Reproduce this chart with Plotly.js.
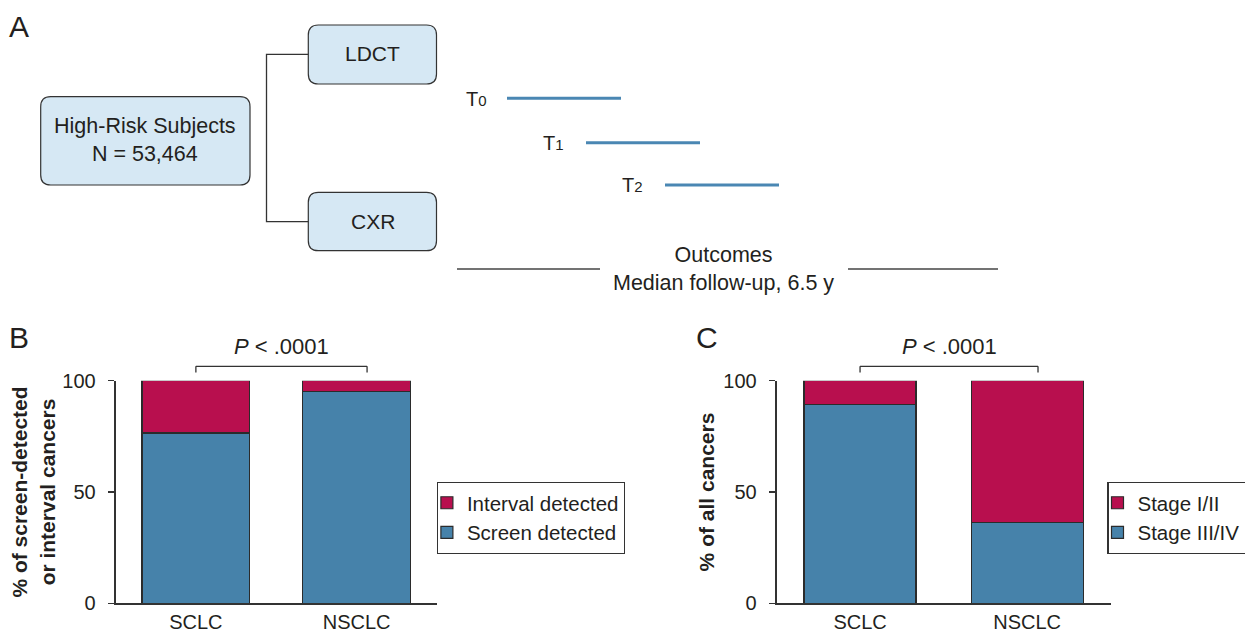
<!DOCTYPE html>
<html><head><meta charset="utf-8">
<script src="https://cdn.plot.ly/plotly-3.0.1.min.js"></script>
<style>html,body{margin:0;padding:0;background:#fff;overflow:hidden}#chart{width:1245px;height:633px}</style>
</head><body><div id="chart"></div>
<script>
// ---- data ----
const categories = ['SCLC', 'NSCLC'];
const screenDetected = [76.5, 95.2];
const intervalDetected = [23.5, 4.8];
const stageIIIIV = [89.2, 36.4];
const stageIandII = [10.8, 63.6];
const yTickVals = [0, 50, 100];
const yTickText = ['0', '50', '100'];
const seriesNamesB = ['Screen detected', 'Interval detected'];
const seriesNamesC = ['Stage III/IV', 'Stage I/II'];
const titleB = '<b>% of screen-detected<br>or interval cancers</b>';
const titleC = '<b>% of all cancers</b>';
const pValueLabel = '<i>P</i> < .0001';
const cohortLabel = 'High-Risk Subjects<br>N = 53,464';
const armLabels = ['LDCT', 'CXR'];
const roundNames = ['T', 'T', 'T'];
const roundIndex = ['0', '1', '2'];
const outcomeLabel = 'Outcomes<br>Median follow-up, 6.5 y';
const panelLabels = ['A', 'B', 'C'];

// ---- style ----
const W = 1245, H = 633;
const FONT = 'Liberation Sans, Arial, Helvetica, sans-serif';
const INK = '#231f20';
const RED = '#b80f4e';
const BLUE = '#4682aa';
const BOXFILL = '#d6e8f4';
const LINEBLUE = '#4a87b3';
const px = x => x / W;
const py = y => 1 - y / H;

function rr(x0, y0, x1, y1, r) {
  const X = v => (v / W).toFixed(5), Y = v => (1 - v / H).toFixed(5);
  return `M${X(x0 + r)},${Y(y0)} L${X(x1 - r)},${Y(y0)} Q${X(x1)},${Y(y0)} ${X(x1)},${Y(y0 + r)} ` +
    `L${X(x1)},${Y(y1 - r)} Q${X(x1)},${Y(y1)} ${X(x1 - r)},${Y(y1)} L${X(x0 + r)},${Y(y1)} ` +
    `Q${X(x0)},${Y(y1)} ${X(x0)},${Y(y1 - r)} L${X(x0)},${Y(y0 + r)} Q${X(x0)},${Y(y0)} ${X(x0 + r)},${Y(y0)} Z`;
}
function poly(pts) {
  return pts.map((p, i) => (i ? 'L' : 'M') + (p[0] / W).toFixed(5) + ',' + (1 - p[1] / H).toFixed(5)).join(' ');
}

const barLine = { color: '#2b2b2b', width: 1.2 };
const traces = [
  { type: 'bar', x: categories, y: screenDetected, name: seriesNamesB[0], marker: { color: BLUE, line: barLine }, xaxis: 'x', yaxis: 'y', legend: 'legend' },
  { type: 'bar', x: categories, y: intervalDetected, name: seriesNamesB[1], marker: { color: RED, line: barLine }, xaxis: 'x', yaxis: 'y', legend: 'legend' },
  { type: 'bar', x: categories, y: stageIIIIV, name: seriesNamesC[0], marker: { color: BLUE, line: barLine }, xaxis: 'x2', yaxis: 'y2', legend: 'legend2' },
  { type: 'bar', x: categories, y: stageIandII, name: seriesNamesC[1], marker: { color: RED, line: barLine }, xaxis: 'x2', yaxis: 'y2', legend: 'legend2' }
];

const xCommon = {
  type: 'category', range: [-0.5, 1.5], showline: true, linecolor: '#333', linewidth: 1.3,
  ticks: '', showgrid: false, zeroline: false, tickfont: { size: 20, color: INK, family: FONT }, fixedrange: true
};
const yCommon = {
  range: [0, 100], tickvals: yTickVals, ticktext: yTickText, ticks: 'outside', ticklen: 6.5, tickwidth: 1.3,
  tickcolor: '#333', showline: true, linecolor: '#333', linewidth: 1.3, showgrid: false, zeroline: false,
  ticklabelstandoff: 8,
  tickfont: { size: 20, color: INK, family: FONT }, fixedrange: true
};
const legendCommon = {
  xanchor: 'left', yanchor: 'top', bordercolor: '#333', borderwidth: 1.2, bgcolor: '#fff',
  font: { size: 20.5, color: INK, family: FONT }, traceorder: 'reversed', indentation: -11
};

const shapes = [];
const annotations = [];
const boxLine = { color: '#333', width: 1.2 };
// panel A boxes
shapes.push({ type: 'path', xref: 'paper', yref: 'paper', path: rr(40.7, 96.7, 250, 185, 10), fillcolor: BOXFILL, line: boxLine });
shapes.push({ type: 'path', xref: 'paper', yref: 'paper', path: rr(308.3, 25, 436.5, 84, 10), fillcolor: BOXFILL, line: boxLine });
shapes.push({ type: 'path', xref: 'paper', yref: 'paper', path: rr(308.3, 192.3, 436.5, 250.7, 10), fillcolor: BOXFILL, line: boxLine });
shapes.push({ type: 'path', xref: 'paper', yref: 'paper', path: poly([[308.3, 54.3], [266.5, 54.3], [266.5, 221.7], [308.3, 221.7]]), line: { color: '#333', width: 1.3 } });
// screening rounds
const roundLines = [[507, 621, 98.3], [586, 700, 142.7], [665, 779, 185]];
roundLines.forEach(l => shapes.push({ type: 'line', xref: 'paper', yref: 'paper', x0: px(l[0]), x1: px(l[1]), y0: py(l[2]), y1: py(l[2]), line: { color: LINEBLUE, width: 3 } }));
const roundText = [[476.5, 98.5], [553, 142.5], [632, 185]];
roundNames.forEach((t, i) => annotations.push({ xref: 'paper', yref: 'paper', x: px(roundText[i][0]), y: py(roundText[i][1]),
  text: t + '<span style="font-size:15px">' + roundIndex[i] + '</span>', showarrow: false, xanchor: 'center', yanchor: 'middle',
  font: { size: 20, color: INK, family: FONT } }));
// outcomes
shapes.push({ type: 'line', xref: 'paper', yref: 'paper', x0: px(457), x1: px(600), y0: py(269), y1: py(269), line: { color: '#444', width: 1.5 } });
shapes.push({ type: 'line', xref: 'paper', yref: 'paper', x0: px(848), x1: px(998), y0: py(269), y1: py(269), line: { color: '#444', width: 1.5 } });
annotations.push({ xref: 'paper', yref: 'paper', x: px(723), y: py(268.5), text: outcomeLabel, showarrow: false, xanchor: 'center', yanchor: 'middle', align: 'center', font: { size: 21.5, color: INK, family: FONT } });
annotations.push({ xref: 'paper', yref: 'paper', x: px(145), y: py(140.5), text: cohortLabel, showarrow: false, xanchor: 'center', yanchor: 'middle', align: 'center', font: { size: 21.5, color: INK, family: FONT } });
annotations.push({ xref: 'paper', yref: 'paper', x: px(372.5), y: py(54), text: armLabels[0], showarrow: false, xanchor: 'center', yanchor: 'middle', font: { size: 21, color: INK, family: FONT } });
annotations.push({ xref: 'paper', yref: 'paper', x: px(372.5), y: py(221.5), text: armLabels[1], showarrow: false, xanchor: 'center', yanchor: 'middle', font: { size: 21, color: INK, family: FONT } });
// panel letters
[[18.5, 26], [19, 337], [707, 337]].forEach((p, i) => annotations.push({ xref: 'paper', yref: 'paper', x: px(p[0]), y: py(p[1]), text: panelLabels[i], showarrow: false, xanchor: 'center', yanchor: 'middle', font: { size: 30, color: INK, family: FONT } }));
// significance brackets
const brTop = py(366.3), brBot = py(372.5), brRight = 1.065;
['x', 'x2'].forEach(xr => {
  shapes.push({ type: 'line', xref: xr, yref: 'paper', x0: 0, x1: brRight, y0: brTop, y1: brTop, line: { color: '#333', width: 1.3 } });
  shapes.push({ type: 'line', xref: xr, yref: 'paper', x0: 0, x1: 0, y0: brTop, y1: brBot, line: { color: '#333', width: 1.3 } });
  shapes.push({ type: 'line', xref: xr, yref: 'paper', x0: brRight, x1: brRight, y0: brTop, y1: brBot, line: { color: '#333', width: 1.3 } });
  annotations.push({ xref: xr, yref: 'paper', x: brRight / 2, y: py(346.7), text: pValueLabel, showarrow: false, xanchor: 'center', yanchor: 'middle', font: { size: 22, color: INK, family: FONT } });
});

const layout = {
  width: W, height: H, autosize: false,
  margin: { l: 0, r: 0, t: 0, b: 0, pad: 0, autoexpand: false },
  paper_bgcolor: '#fff', plot_bgcolor: 'rgba(0,0,0,0)',
  font: { family: FONT, color: INK },
  barmode: 'stack', bargap: 0.33,
  showlegend: true,
  xaxis: Object.assign({}, xCommon, { domain: [px(115.5), px(437)], anchor: 'y' }),
  yaxis: Object.assign({}, yCommon, { domain: [py(603.3), py(380.7)], anchor: 'x',
    title: { text: titleB, font: { size: 21, color: INK, family: FONT }, standoff: 1 } }),
  xaxis2: Object.assign({}, xCommon, { domain: [px(776.5), px(1110.7)], anchor: 'y2' }),
  yaxis2: Object.assign({}, yCommon, { domain: [py(603.3), py(380.7)], anchor: 'x2',
    title: { text: titleC, font: { size: 21, color: INK, family: FONT }, standoff: 3 } }),
  legend: Object.assign({}, legendCommon, { x: px(436.7), y: py(481.7) }),
  legend2: Object.assign({}, legendCommon, { x: px(1107.3), y: py(481.7) }),
  shapes: shapes,
  annotations: annotations
};

Plotly.newPlot('chart', traces, layout, { displayModeBar: false, staticPlot: true });
</script>
</body></html>
